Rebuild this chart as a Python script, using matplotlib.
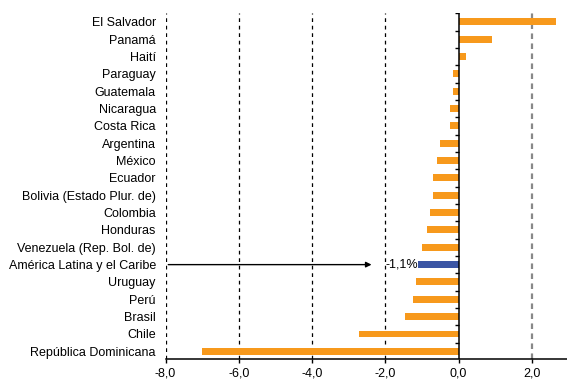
import numpy as np
import matplotlib
matplotlib.use("Agg")
import matplotlib.pyplot as plt

plt.rcParams['font.family'] = ['Liberation Sans', 'DejaVu Sans']

# countries, top to bottom
paises = ["El Salvador", "Panamá", "Haití", "Paraguay", "Guatemala",
          "Nicaragua", "Costa Rica", "Argentina", "México", "Ecuador",
          "Bolivia (Estado Plur. de)", "Colombia", "Honduras",
          "Venezuela (Rep. Bol. de)", "América Latina y el Caribe",
          "Uruguay", "Perú", "Brasil", "Chile", "República Dominicana"]
valores = [2.66, 0.92, 0.20, -0.15, -0.15, -0.23, -0.23, -0.50, -0.58,
           -0.69, -0.69, -0.78, -0.86, -1.00, -1.10, -1.16, -1.24, -1.46,
           -2.72, -7.00]
xticks = [-8, -6, -4, -2, 0, 2]
xticklabels = ["-8,0", "-6,0", "-4,0", "-2,0", "0,0", "2,0"]
region = "América Latina y el Caribe"

orange = "#F7991C"
blue = "#3B55A4"

fig = plt.figure(figsize=(5.67, 3.81), dpi=100)
ax = fig.add_axes([165.5/567, 1-359.3/381, (568.5-165.5)/567, (359.3-12.5)/381])

y = np.arange(len(paises))
colors = [blue if p == region else orange for p in paises]
ax.barh(y, valores, height=0.4, color=colors, zorder=3)

ax.set_xlim(-8, 3)
ax.set_ylim(len(paises) - 0.54, -0.54)

# grid lines
for xv in [-8, -6, -4, -2]:
    ax.axvline(xv, color="black", ls=(0, (3, 3)), lw=0.9, zorder=1)
ax.axvline(2, color="#888888", ls=(0, (2.5, 2)), lw=1.6, zorder=1)

# zero line with small ticks between categories
ax.axvline(0, color="black", lw=1.1, zorder=4)
ax.hlines(np.arange(len(paises) + 1) - 0.5, -0.09, 0, color="black", lw=1, zorder=4)

for s in ["left", "right", "top"]:
    ax.spines[s].set_visible(False)
ax.spines["bottom"].set_linewidth(1.1)

ax.set_yticks(y)
ax.set_yticklabels(paises, fontsize=9)
ax.tick_params(axis="y", length=0, pad=7)
ax.set_xticks(xticks)
ax.set_xticklabels(xticklabels, fontsize=9)
ax.tick_params(axis="x", length=3, width=1, direction="out", pad=3)

# arrow and label for the regional value
iy = paises.index(region)
ax.annotate("", xy=(-2.3, iy), xytext=(-8, iy),
            arrowprops=dict(arrowstyle="-|>", color="black", lw=1,
                            mutation_scale=8), zorder=5)
ax.text(valores[iy], iy, "-1,1%", ha="right", va="center", fontsize=9, zorder=5)

fig.savefig("out.png", dpi=100)
